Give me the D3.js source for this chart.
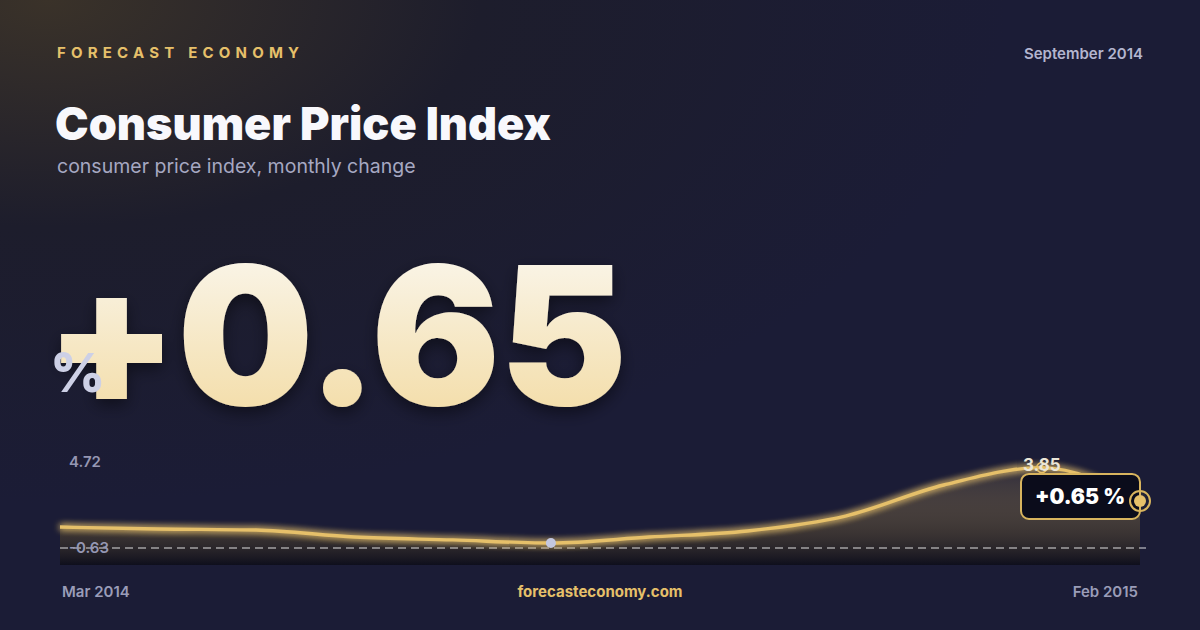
<!DOCTYPE html>
<html>
<head>
<meta charset="utf-8">
<script src="https://cdn.jsdelivr.net/npm/d3@7"></script>
<style>
  html, body { margin: 0; padding: 0; background: #1b1c33; }
  svg { display: block; }
</style>
</head>
<body>
<div id="chart"></div>
<script>
// dati
var months = ["Mar 2014", "Apr 2014", "May 2014", "Jun 2014", "Jul 2014", "Aug 2014",
              "Sep 2014", "Oct 2014", "Nov 2014", "Dec 2014", "Jan 2015", "Feb 2015"];
var values = [0.54, 0.43, 0.37, -0.02, -0.18, -0.35, -0.02, 0.32, 1.15, 2.88, 3.85, 1.99];
var yTicks = [4.72, -0.63];
var headline = "+0.65";
var headlineLabel = "+0.65 %";
var period = "September 2014";

var width = 1200, height = 630;
var gold = "#e6c06a";

var svg = d3.select("#chart").append("svg")
  .attr("width", width)
  .attr("height", height);

var defs = svg.append("defs");

// sfondo con alone caldo in alto a sinistra
var bgGrad = defs.append("radialGradient")
  .attr("id", "bgGlow")
  .attr("cx", 0.04).attr("cy", 0)
  .attr("r", 0.8);
bgGrad.append("stop").attr("offset", "0%").attr("stop-color", "#3a3229");
bgGrad.append("stop").attr("offset", "45%").attr("stop-color", "#1d1d2c");
bgGrad.append("stop").attr("offset", "100%").attr("stop-color", "#1b1c36");

svg.append("rect")
  .attr("width", width).attr("height", height)
  .attr("fill", "url(#bgGlow)");

// gradiente numero grande
var numGrad = defs.append("linearGradient")
  .attr("id", "numGrad")
  .attr("x1", 0).attr("y1", 0).attr("x2", 0).attr("y2", 1);
numGrad.append("stop").attr("offset", "0%").attr("stop-color", "#fbfaf6");
numGrad.append("stop").attr("offset", "100%").attr("stop-color", "#f2d89b");

var shadow = defs.append("filter").attr("id", "numShadow")
  .attr("x", "-10%").attr("y", "-10%").attr("width", "120%").attr("height", "130%");
shadow.append("feDropShadow")
  .attr("dx", 0).attr("dy", 6).attr("stdDeviation", 8)
  .attr("flood-color", "#000").attr("flood-opacity", 0.45);

var glow = defs.append("filter").attr("id", "lineGlow")
  .attr("x", "-5%").attr("y", "-50%").attr("width", "110%").attr("height", "200%");
glow.append("feGaussianBlur").attr("stdDeviation", 3.5).attr("result", "b");
var merge = glow.append("feMerge");
merge.append("feMergeNode").attr("in", "b");
merge.append("feMergeNode").attr("in", "b");
merge.append("feMergeNode").attr("in", "SourceGraphic");

var areaGrad = defs.append("linearGradient")
  .attr("id", "areaGrad")
  .attr("x1", 0).attr("y1", 0).attr("x2", 0).attr("y2", 1);
areaGrad.append("stop").attr("offset", "0%").attr("stop-color", gold).attr("stop-opacity", 0.09);
areaGrad.append("stop").attr("offset", "100%").attr("stop-color", "#0b0b16").attr("stop-opacity", 0.8);

// intestazione
svg.append("text")
  .attr("x", 57).attr("y", 58)
  .attr("font-family", "Inter, 'DejaVu Sans', sans-serif")
  .attr("font-size", 15).attr("font-weight", 700)
  .attr("letter-spacing", 5.2)
  .attr("fill", gold)
  .text("FORECAST ECONOMY");

svg.append("text")
  .attr("x", 1143).attr("y", 59)
  .attr("text-anchor", "end")
  .attr("font-family", "Inter, sans-serif")
  .attr("font-size", 15).attr("font-weight", 600)
  .attr("fill", "#b3b5cf")
  .text(period);

svg.append("text")
  .attr("x", 55).attr("y", 140)
  .attr("font-family", "Inter, sans-serif")
  .attr("font-size", 45).attr("font-weight", 900)
  .attr("fill", "#f8f8fc")
  .text("Consumer Price Index");

svg.append("text")
  .attr("x", 57).attr("y", 173)
  .attr("font-family", "Inter, sans-serif")
  .attr("font-size", 19.5).attr("font-weight", 400)
  .attr("fill", "#a6a8c2")
  .text("consumer price index, monthly change");

// numero grande
svg.append("text")
  .attr("x", 45).attr("y", 405)
  .attr("font-family", "Inter, sans-serif")
  .attr("font-size", 192).attr("font-weight", 900)
  .attr("letter-spacing", -1)
  .attr("fill", "url(#numGrad)")
  .attr("filter", "url(#numShadow)")
  .text(headline);

svg.append("text")
  .attr("x", 50).attr("y", 392)
  .attr("font-family", "Inter, sans-serif")
  .attr("font-size", 54).attr("font-weight", 800)
  .attr("fill", "#cdd0e6")
  .text("%");

// grafico
var x = d3.scalePoint()
  .domain(months)
  .range([60, 1140]);

var y = d3.scaleLinear()
  .domain([yTicks[1], yTicks[0]])
  .range([548, 452]);

var chartBottom = 565;

var area = d3.area()
  .x((d, i) => x(months[i]))
  .y0(chartBottom)
  .y1((d) => y(d))
  .curve(d3.curveMonotoneX);

var line = d3.line()
  .x((d, i) => x(months[i]))
  .y((d) => y(d))
  .curve(d3.curveMonotoneX);

svg.append("path")
  .datum(values)
  .attr("d", area)
  .attr("fill", "url(#areaGrad)");

svg.append("line")
  .attr("x1", 60).attr("x2", 1146)
  .attr("y1", y(yTicks[1])).attr("y2", y(yTicks[1]))
  .attr("stroke", "#ffffff")
  .attr("stroke-opacity", 0.85)
  .attr("stroke-width", 1.2)
  .attr("stroke-dasharray", "8,5");

svg.append("path")
  .datum(values)
  .attr("d", line)
  .attr("fill", "none")
  .attr("stroke", gold)
  .attr("stroke-width", 3.4)
  .attr("filter", "url(#lineGlow)");

// etichette asse y
svg.selectAll(".ytick")
  .data(yTicks)
  .enter()
  .append("text")
  .attr("class", "ytick")
  .attr("x", 69)
  .attr("y", (d) => y(d) + (d === yTicks[0] ? 15 : 5))
  .attr("font-family", "Inter, sans-serif")
  .attr("font-size", 15).attr("font-weight", 600)
  .attr("fill", "#9597b3")
  .text((d) => d.toFixed(2));

// minimo
var minIdx = values.indexOf(d3.min(values));
svg.append("circle")
  .attr("cx", x(months[minIdx]))
  .attr("cy", y(values[minIdx]))
  .attr("r", 5)
  .attr("fill", "#c3c7e0");

// massimo
var maxIdx = values.indexOf(d3.max(values));
svg.append("circle")
  .attr("cx", x(months[maxIdx]))
  .attr("cy", y(values[maxIdx]))
  .attr("r", 5)
  .attr("fill", "none")
  .attr("stroke", gold)
  .attr("stroke-width", 1.5);

svg.append("text")
  .attr("x", x(months[maxIdx]))
  .attr("y", y(values[maxIdx]) + 3)
  .attr("text-anchor", "middle")
  .attr("font-family", "Inter, sans-serif")
  .attr("font-size", 17).attr("font-weight", 700)
  .attr("fill", "#ebe6d8")
  .text(values[maxIdx].toFixed(2));

// ultimo punto e callout
var last = values.length - 1;
var lx = x(months[last]), ly = y(values[last]);

svg.append("rect")
  .attr("x", lx - 119).attr("y", ly - 27)
  .attr("width", 119).attr("height", 45)
  .attr("rx", 8)
  .attr("fill", "#0b0c1b")
  .attr("stroke", "#d8b45e")
  .attr("stroke-width", 2);

svg.append("text")
  .attr("x", lx - 60).attr("y", ly + 3)
  .attr("text-anchor", "middle")
  .attr("font-family", "Inter, sans-serif")
  .attr("font-size", 21).attr("font-weight", 900)
  .attr("fill", "#ffffff")
  .text(headlineLabel);

svg.append("circle")
  .attr("cx", lx).attr("cy", ly)
  .attr("r", 10)
  .attr("fill", "none")
  .attr("stroke", "#d8b45e")
  .attr("stroke-width", 2);

svg.append("circle")
  .attr("cx", lx).attr("cy", ly)
  .attr("r", 6)
  .attr("fill", gold);

// piè di pagina
svg.append("text")
  .attr("x", 62).attr("y", 597)
  .attr("font-family", "Inter, sans-serif")
  .attr("font-size", 15).attr("font-weight", 600)
  .attr("fill", "#9a9cb8")
  .text(months[0]);

svg.append("text")
  .attr("x", 600).attr("y", 597)
  .attr("text-anchor", "middle")
  .attr("font-family", "Inter, sans-serif")
  .attr("font-size", 15).attr("font-weight", 700)
  .attr("fill", gold)
  .text("forecasteconomy.com");

svg.append("text")
  .attr("x", 1138).attr("y", 597)
  .attr("text-anchor", "end")
  .attr("font-family", "Inter, sans-serif")
  .attr("font-size", 15).attr("font-weight", 600)
  .attr("fill", "#9a9cb8")
  .text(months[last]);
</script>
</body>
</html>
